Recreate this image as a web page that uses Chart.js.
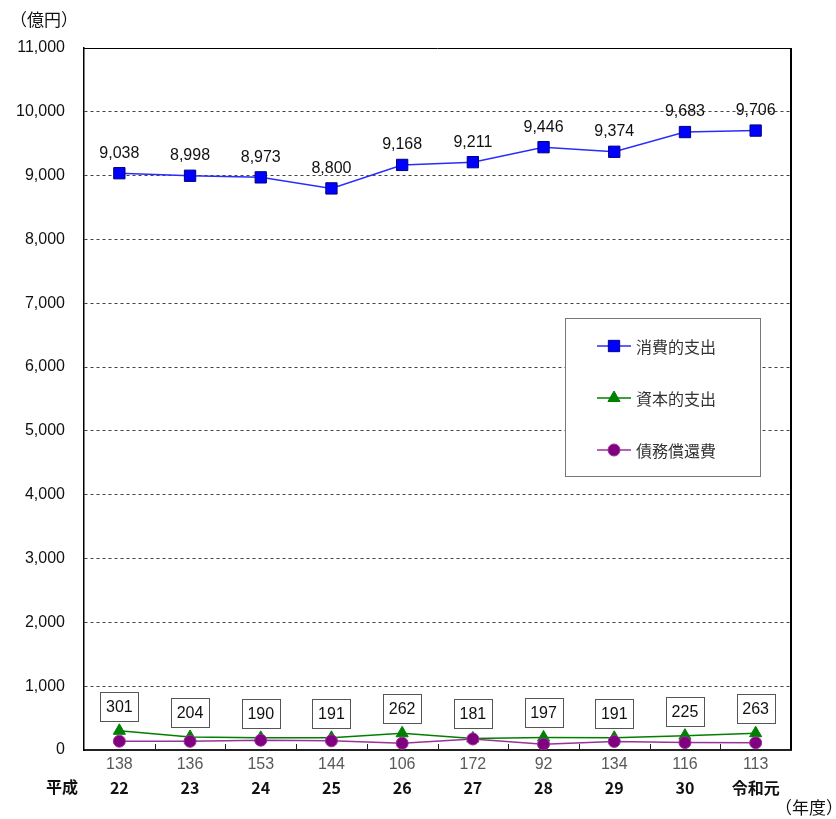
<!DOCTYPE html>
<html>
<head>
<meta charset="utf-8">
<script src="https://cdn.jsdelivr.net/npm/chart.js@4"></script>
<style>
  html, body { margin: 0; padding: 0; background: #fff; }
  #wrap { width: 836px; height: 819px; }
</style>
</head>
<body>
<div id="wrap"><canvas id="myChart" width="836" height="819"></canvas></div>
<script>
var years = ['22', '23', '24', '25', '26', '27', '28', '29', '30', '令和元'];
var consumption = [9038, 8998, 8973, 8800, 9168, 9211, 9446, 9374, 9683, 9706];
var capital = [301, 204, 190, 191, 262, 181, 197, 191, 225, 263];
var debt = [138, 136, 153, 144, 106, 172, 92, 134, 116, 113];
var yTicks = [0, 1000, 2000, 3000, 4000, 5000, 6000, 7000, 8000, 9000, 10000, 11000];

var numFont = "'Liberation Sans', Arial, sans-serif";
var jpFont = "'Noto Sans CJK JP', 'Liberation Sans', sans-serif";

function fmt(v) {
    return v.toLocaleString('en-US');
}

var extras = {
    id: 'extras',
    afterDatasetsDraw: function(chart) {
        var ctx = chart.ctx;
        var area = chart.chartArea;
        var x = chart.scales.x;
        ctx.save();

        // frame top / right
        ctx.strokeStyle = '#000';
        ctx.lineWidth = 1;
        ctx.beginPath();
        ctx.moveTo(area.left, area.top + 0.5);
        ctx.lineTo(area.right, area.top + 0.5);
        ctx.stroke();
        ctx.lineWidth = 2;
        ctx.beginPath();
        ctx.moveTo(area.right, area.top);
        ctx.lineTo(area.right, area.bottom);
        ctx.stroke();

        // inward ticks at category boundaries
        ctx.strokeStyle = '#222';
        ctx.lineWidth = 1;
        for (var i = 0; i < years.length - 1; i++) {
            var bx = Math.round((x.getPixelForValue(i) + x.getPixelForValue(i + 1)) / 2) + 0.5;
            ctx.beginPath();
            ctx.moveTo(bx, area.bottom);
            ctx.lineTo(bx, area.bottom - 6);
            ctx.stroke();
        }

        // labels on 消費的支出
        var m0 = chart.getDatasetMeta(0);
        ctx.font = '16px ' + numFont;
        ctx.fillStyle = '#111';
        ctx.textAlign = 'center';
        ctx.textBaseline = 'middle';
        m0.data.forEach(function(pt, i) {
            ctx.fillText(fmt(consumption[i]), pt.x, pt.y - 20);
        });

        // boxed labels on 資本的支出
        var m1 = chart.getDatasetMeta(1);
        m1.data.forEach(function(pt, i) {
            var w = 38, h = 29;
            var top = Math.round(pt.y - 10 - h) + 0.5;
            var left = Math.round(pt.x - w / 2) + 0.5;
            ctx.fillStyle = '#fff';
            ctx.fillRect(left, top, w, h);
            ctx.strokeStyle = '#555';
            ctx.lineWidth = 1;
            ctx.strokeRect(left, top, w, h);
            ctx.fillStyle = '#111';
            ctx.fillText(fmt(capital[i]), pt.x, top + h / 2 + 1);
        });

        // 債務償還費 values below axis
        ctx.font = '16px ' + numFont;
        ctx.fillStyle = '#595959';
        debt.forEach(function(v, i) {
            ctx.fillText(v, x.getPixelForValue(i), area.bottom + 15);
        });

        // 平成 label
        ctx.font = 'bold 16px ' + jpFont;
        ctx.fillStyle = '#111';
        ctx.fillText('平成', 62, 787);

        // axis unit labels
        ctx.font = '17px ' + jpFont;
        ctx.textAlign = 'left';
        ctx.fillText('（億円）', 10, 20);
        ctx.fillText('（年度）', 775, 808);

        // legend box
        var lx = 565, ly = 318, lw = 195, lh = 158;
        ctx.fillStyle = '#fff';
        ctx.fillRect(lx, ly, lw, lh);
        ctx.strokeStyle = '#777';
        ctx.lineWidth = 1;
        ctx.strokeRect(lx + 0.5, ly + 0.5, lw, lh);
        var rows = [346, 398, 450];
        chart.data.datasets.forEach(function(ds, i) {
            var cy = rows[i];
            ctx.strokeStyle = ds.borderColor;
            ctx.lineWidth = 1.5;
            ctx.beginPath();
            ctx.moveTo(597, cy);
            ctx.lineTo(631, cy);
            ctx.stroke();
            ctx.fillStyle = ds.pointBackgroundColor;
            ctx.strokeStyle = ds.pointBorderColor;
            ctx.lineWidth = ds.pointBorderWidth;
            ctx.beginPath();
            if (ds.pointStyle === 'rect') {
                var s = ds.pointRadius * Math.SQRT1_2;
                ctx.rect(614 - s, cy - s, 2 * s, 2 * s);
            } else if (ds.pointStyle === 'triangle') {
                var r = ds.pointRadius;
                ctx.moveTo(614, cy - r);
                ctx.lineTo(614 + r * 0.866, cy + r / 2);
                ctx.lineTo(614 - r * 0.866, cy + r / 2);
                ctx.closePath();
            } else {
                ctx.arc(614, cy, ds.pointRadius, 0, Math.PI * 2);
            }
            ctx.fill();
            ctx.stroke();
            ctx.fillStyle = '#333';
            ctx.font = '16px ' + jpFont;
            ctx.textAlign = 'left';
            ctx.fillText(ds.label, 636, cy + 1);
        });

        ctx.restore();
    }
};

var ctx = document.getElementById('myChart').getContext('2d');
var myChart = new Chart(ctx, {
    type: 'line',
    data: {
        labels: years,
        datasets: [{
            label: '消費的支出',
            data: consumption,
            borderColor: '#2b2bff',
            borderWidth: 1.5,
            pointStyle: 'rect',
            pointRadius: 8,
            pointBorderWidth: 1,
            pointBackgroundColor: '#0000ff',
            pointBorderColor: '#000080',
            order: 2
        },
        {
            label: '資本的支出',
            data: capital,
            borderColor: '#008000',
            borderWidth: 1.5,
            pointStyle: 'triangle',
            pointRadius: 7,
            pointBorderWidth: 1,
            pointBackgroundColor: '#008000',
            pointBorderColor: '#008000',
            order: 1
        },
        {
            label: '債務償還費',
            data: debt,
            borderColor: '#993399',
            borderWidth: 1.5,
            pointStyle: 'circle',
            pointRadius: 6,
            pointBorderWidth: 1,
            pointBackgroundColor: '#800080',
            pointBorderColor: '#993399',
            order: 0
        }]
    },
    options: {
        responsive: false,
        animation: false,
        layout: {
            padding: { top: 48, right: 45, left: 0, bottom: 0 }
        },
        plugins: {
            legend: { display: false },
            tooltip: { enabled: false }
        },
        scales: {
            x: {
                offset: true,
                grid: { display: false },
                border: { display: true, color: '#222', width: 2 },
                ticks: {
                    autoSkip: false,
                    maxRotation: 0,
                    padding: 20,
                    color: '#111',
                    font: { size: 16, weight: 'bold', family: jpFont }
                },
                afterFit: function(scale) { scale.height = 69; }
            },
            y: {
                min: 0,
                max: 11000,
                afterBuildTicks: function(scale) {
                    scale.ticks = yTicks.map(function(v) { return { value: v }; });
                },
                grid: {
                    color: '#444',
                    lineWidth: 1,
                    drawTicks: false
                },
                border: { display: true, color: '#000', width: 1.5, dash: [3, 3] },
                ticks: {
                    padding: 19,
                    color: '#111',
                    font: { size: 16, family: numFont },
                    callback: function(v) { return fmt(v); }
                },
                afterFit: function(scale) { scale.width = 84; }
            }
        }
    },
    plugins: [extras]
});
</script>
</body>
</html>
